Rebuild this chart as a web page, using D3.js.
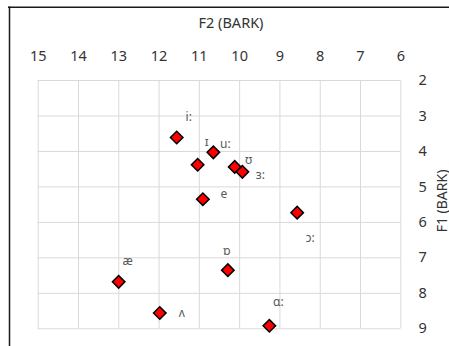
<!DOCTYPE html>
<html>
<head>
<meta charset="utf-8">
<script src="https://cdn.jsdelivr.net/npm/d3@7"></script>
<style>
  html, body { margin: 0; padding: 0; background: #fff; }
  svg { display: block; }
  text { font-family: "Noto Sans", "Open Sans", sans-serif; }
</style>
</head>
<body>
<svg id="chart" width="449" height="346"></svg>
<script>
// ---- data ----
const vowels = ["i:", "ɪ", "u:", "ʊ", "ɜ:", "e", "ɔ:", "ɒ", "æ", "ʌ", "ɑ:"];
const f2Bark = [11.55, 11.03, 10.64, 10.11, 9.92, 10.90, 8.56, 10.28, 12.99, 11.97, 9.25];
const f1Bark = [3.62, 4.39, 4.04, 4.45, 4.59, 5.36, 5.74, 7.36, 7.69, 8.57, 8.93];
const xTicks = [15, 14, 13, 12, 11, 10, 9, 8, 7, 6];
const yTicks = [2, 3, 4, 5, 6, 7, 8, 9];
const xTitle = "F2 (BARK)";
const yTitle = "F1 (BARK)";

// label placement (manual, like the original data labels) — offsets in px
const labelOffsets = [
  [12, -20], [9, -22], [12, -8], [14, -7], [18, 4], [21, -5],
  [13, 26], [-1, -19], [9, -20], [22, 0], [9, -23]
];

const svg = d3.select("#chart");
const pLeft = 37.7, pRight = 400.3, pTop = 80, pBottom = 328.3;

const x = d3.scaleLinear().domain([15, 6]).range([pLeft, pRight]);
const y = d3.scaleLinear().domain([2, 9]).range([pTop, pBottom]);

// chart border (cropped)
svg.append("line").attr("x1", 8).attr("x2", 449).attr("y1", 7.3).attr("y2", 7.3)
  .attr("stroke", "#1a1a1a").attr("stroke-width", 1.5);
svg.append("line").attr("x1", 9.5).attr("x2", 9.5).attr("y1", 6.5).attr("y2", 346)
  .attr("stroke", "#1a1a1a").attr("stroke-width", 1.5);

// gridlines
const gx = svg.append("g").attr("transform", `translate(0,${pBottom})`)
  .call(d3.axisBottom(x).tickValues(xTicks).tickSize(-(pBottom - pTop)).tickFormat(""));
gx.select(".domain").remove();
gx.selectAll("line").attr("stroke", "#d9d9d9").attr("stroke-width", 1);

const gy = svg.append("g").attr("transform", `translate(${pLeft},0)`)
  .call(d3.axisLeft(y).tickValues(yTicks).tickSize(-(pRight - pLeft)).tickFormat(""));
gy.select(".domain").remove();
gy.selectAll("line").attr("stroke", "#d9d9d9").attr("stroke-width", 1);

// tick labels: top (x) and right (y)
const ax = svg.append("g").attr("transform", `translate(0,61)`)
  .call(d3.axisTop(x).tickValues(xTicks).tickSize(0).tickPadding(0).tickFormat(d3.format("d")));
ax.select(".domain").remove();
ax.selectAll("text").attr("font-size", "14.5px").attr("fill", "#333")
  .attr("font-family", "'Noto Sans', sans-serif");

const ay = svg.append("g").attr("transform", `translate(418.5,0)`)
  .call(d3.axisRight(y).tickValues(yTicks).tickSize(0).tickPadding(0).tickFormat(d3.format("d")));
ay.select(".domain").remove();
ay.selectAll("text").attr("font-size", "14.5px").attr("fill", "#333")
  .attr("font-family", "'Noto Sans', sans-serif");

// axis titles
svg.append("text").attr("x", 231).attr("y", 28.3).attr("text-anchor", "middle")
  .attr("font-size", "14.5px").attr("fill", "#333").text(xTitle);
svg.append("text").attr("transform", "translate(446.5,201) rotate(-90)")
  .attr("text-anchor", "middle").attr("font-size", "14px").attr("fill", "#333").text(yTitle);

// points
const pts = vowels.map((v, i) => ({ v, f2: f2Bark[i], f1: f1Bark[i], off: labelOffsets[i] }));
const sym = d3.symbol().type(d3.symbolSquare).size(78);
svg.append("g").selectAll("path").data(pts).join("path")
  .attr("d", sym)
  .attr("transform", d => `translate(${x(d.f2)},${y(d.f1)}) rotate(45)`)
  .attr("fill", "#ff0000").attr("stroke", "#000").attr("stroke-width", 1.5);

// labels
svg.append("g").selectAll("text").data(pts).join("text")
  .attr("x", d => x(d.f2) + d.off[0])
  .attr("y", d => y(d.f1) + d.off[1])
  .attr("dy", "0.3em")
  .attr("text-anchor", "middle")
  .attr("font-size", "12px").attr("fill", "#595959")
  .text(d => d.v);
</script>
</body>
</html>
